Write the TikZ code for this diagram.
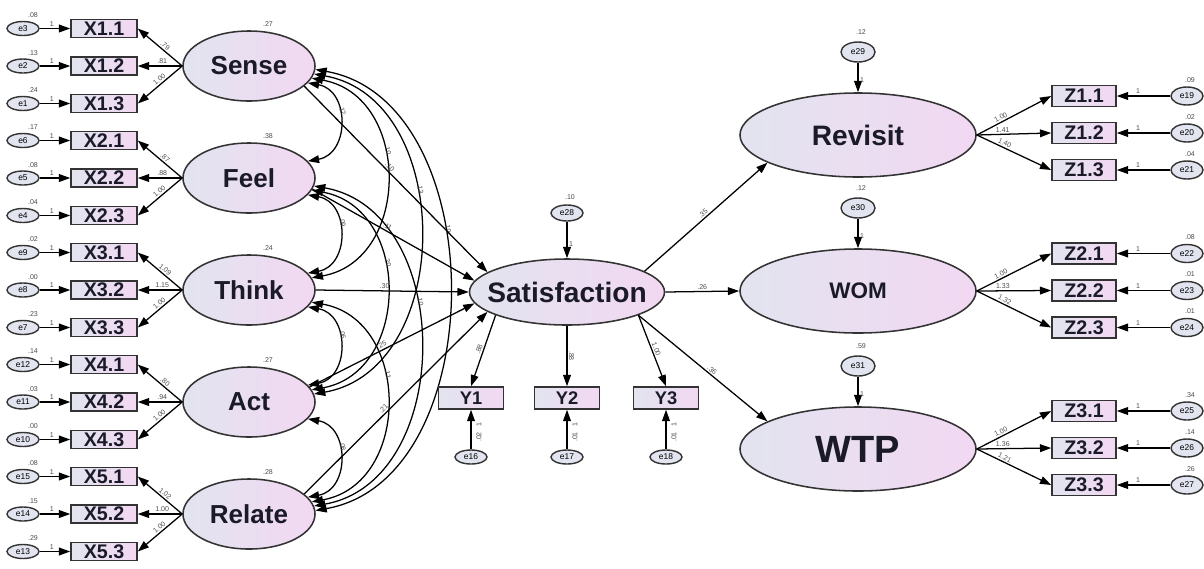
\documentclass[tikz,border=0pt]{standalone}
\usepackage{fontspec}
\setmainfont{Liberation Sans}
\usetikzlibrary{arrows.meta,shapes.geometric}

\definecolor{fillL}{HTML}{E2E4EF}
\definecolor{fillR}{HTML}{F2D8F2}
\definecolor{edgegray}{HTML}{333333}
\definecolor{inkdark}{HTML}{1A1A28}

\begin{document}
\begin{tikzpicture}[x=0.025cm,y=0.025cm,
    >={Triangle[length=8pt,width=5.5pt]},
    latent/.style={ellipse,draw=edgegray,line width=1.1pt,left color=fillL,right color=fillR,inner sep=0pt},
    obs/.style={rectangle,draw=edgegray,line width=1.1pt,left color=fillL,right color=fillR,inner sep=0pt,
        text=inkdark,font=\bfseries\fontsize{14}{14}\selectfont},
    err/.style={ellipse,draw=edgegray,line width=1pt,fill=fillL,inner sep=0pt,minimum width=0.8cm,minimum height=0.35cm,
        font=\fontsize{6}{6}\selectfont},
    lattext/.style={text=inkdark,font=\bfseries\fontsize{18.5}{18.5}\selectfont},
    num/.style={inner sep=1pt,text=black!70,font=\fontsize{5}{5}\selectfont},
    path/.style={->,line width=0.9pt},
    cov/.style={<->,line width=0.9pt}]
    \useasboundingbox (0,0) rectangle (1204,-568);

    % exogenous latents and their indicators
    \foreach \g/\nm/\txt/\var in {1/sense/Sense/.27, 2/feel/Feel/.38, 3/think/Think/.24, 4/act/Act/.27, 5/relate/Relate/.28}{
        \pgfmathsetmacro\yy{-66-112*(\g-1)}
        \node[latent,minimum width=3.3cm,minimum height=1.75cm,label={[lattext]center:\txt}] (\nm) at (249,\yy) {};
        \node[num] at (268,\yy+42) {\var};
    }
    \foreach \g/\nm/\i/\e/\v/\l in {1/sense/1/3/.08/.79, 1/sense/2/2/.13/.81, 1/sense/3/1/.24/1.00,
        2/feel/1/6/.17/.87, 2/feel/2/5/.08/.88, 2/feel/3/4/.04/1.00,
        3/think/1/9/.02/1.09, 3/think/2/8/.00/1.15, 3/think/3/7/.23/1.00,
        4/act/1/12/.14/.80, 4/act/2/11/.03/.94, 4/act/3/10/.00/1.00,
        5/relate/1/15/.08/1.02, 5/relate/2/14/.15/1.00, 5/relate/3/13/.29/1.00}{
        \pgfmathsetmacro\yy{-66-112*(\g-1)+37.5*(2-\i)}
        \node[obs,minimum width=1.65cm,minimum height=0.45cm] (x\g\i) at (104,\yy) {X\g.\i};
        \node[err] (e\e) at (23,\yy) {e\e};
        \node[num] at (33,\yy+13) {\v};
        \draw[path] (e\e) -- node[num,above,pos=.4]{1} (x\g\i);
        \draw[path] (\nm.west) -- node[num,sloped,above,pos=.45]{\l} (x\g\i.east);
    }

    % covariances
    \foreach \a/\b/\oa/\ls/\l in {sense/feel/16/1.4/.12, feel/think/16/1.4/.09, think/act/16/1.4/.06, act/relate/16/1.4/.08,
        sense/think/11/1.3/.10, feel/act/11/1.3/.20, think/relate/11/1.3/.11,
        sense/act/7/1.15/.13, feel/relate/7/1.15/.10, sense/relate/3/1.05/.10}{
        \draw[cov] (\a.-\oa) to[out=-10,in=10,looseness=\ls] node[num,sloped,above,pos=.4]{\l} (\b.\oa);
    }

    % satisfaction
    \node[latent,minimum width=4.875cm,minimum height=1.65cm,
        label={[lattext,font=\bfseries\fontsize{20}{20}\selectfont]center:Satisfaction}] (sat) at (567,-292) {};
    \node[err,minimum height=0.4cm] (e28) at (567,-213) {e28};
    \node[num] at (570,-197) {.10};
    \draw[path] (e28) -- node[num,right,pos=.6]{1} (sat);
    \foreach \nm/\oa/\ob/\l in {sense/-20/166/.10, feel/-10/173/.11, think/0/180/.30, act/14/187/.25, relate/20/194/.21}{
        \draw[path] (\nm.\oa) -- node[num,sloped,above,pos=.45]{\l} (sat.\ob);
    }
    \foreach \i/\xx/\e/\v/\oa/\l in {1/471/16/.02/198/.88, 2/567/17/.01/270/.88, 3/666/18/.01/342/1.00}{
        \node[obs,minimum width=1.625cm,minimum height=0.55cm,font=\bfseries\fontsize{13}{13}\selectfont] (y\i) at (\xx,-398) {Y\i};
        \node[err] (e\e) at (\xx,-457) {e\e};
        \draw[path] (e\e) -- (y\i);
        \node[num,rotate=90] at (\xx+8,-425) {1};
        \node[num,rotate=90] at (\xx+8,-437) {\v};
        \draw[path] (sat.\oa) -- node[num,sloped,above,pos=.5]{\l} (y\i.north);
    }

    % outcomes
    \node[latent,minimum width=5.9cm,minimum height=2.1cm,
        label={[lattext,font=\bfseries\fontsize{20}{20}\selectfont]center:Revisit}] (revisit) at (858,-135) {};
    \node[latent,minimum width=5.9cm,minimum height=2.1cm,
        label={[lattext,font=\bfseries\fontsize{16}{16}\selectfont]center:WOM}] (wom) at (858,-291) {};
    \node[latent,minimum width=5.9cm,minimum height=2.1cm,
        label={[lattext,font=\bfseries\fontsize{27}{27}\selectfont]center:WTP}] (wtp) at (858,-449) {};
    \draw[path] (sat.15) -- node[num,sloped,above]{.35} (revisit.197);
    \draw[path] (sat.east) -- node[num,above]{.26} (wom.west);
    \draw[path] (sat.-18) -- node[num,sloped,above,pos=.55]{.36} (wtp.163);
    \foreach \nm/\yy/\e/\v in {revisit/135/29/.12, wom/291/30/.12, wtp/449/31/.59}{
        \node[err,minimum width=0.85cm,minimum height=0.5cm] (e\e) at (858,-\yy+83) {e\e};
        \node[num] at (861,-\yy+103) {\v};
        \draw[path] (e\e) -- node[num,right,pos=.6]{1} (\nm);
    }
    \foreach \g/\nm/\i/\e/\v/\l in {1/revisit/1/19/.09/1.00, 1/revisit/2/20/.02/1.41, 1/revisit/3/21/.04/1.40,
        2/wom/1/22/.08/1.00, 2/wom/2/23/.01/1.33, 2/wom/3/24/.01/1.32,
        3/wtp/1/25/.34/1.00, 3/wtp/2/26/.14/1.36, 3/wtp/3/27/.26/1.21}{
        \pgfmathsetmacro\yy{-133-157.5*(\g-1)+37*(2-\i)}
        \node[obs,minimum width=1.6cm,minimum height=0.525cm] (z\g\i) at (1084,\yy) {Z\g.\i};
        \node[err,minimum height=0.45cm] (e\e) at (1187,\yy) {e\e};
        \node[num] at (1190,\yy+16) {\v};
        \draw[path] (e\e) -- node[num,above,pos=.6]{1} (z\g\i);
        \draw[path] (\nm.east) -- node[num,sloped,above,pos=.35]{\l} (z\g\i.west);
    }
\end{tikzpicture}
\end{document}
